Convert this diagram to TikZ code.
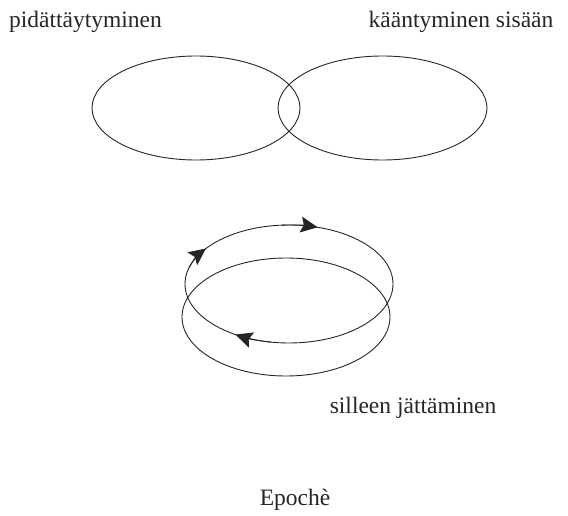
\documentclass[tikz,border=0pt]{standalone}
\usepackage{fontspec}
\setmainfont{Liberation Serif}
\usetikzlibrary{arrows.meta}
\begin{document}
\begin{tikzpicture}[x=1pt,y=-1pt,
  ring/.style={line width=0.9pt, black!85},
  lbl/.style={font=\fontsize{23.5}{28}\selectfont, text=black!85, inner sep=0pt},
  tipped/.style={line width=0.9pt, black!85, -{Stealth[length=17pt,width=16pt,inset=3pt]}}]
\useasboundingbox (0,0) rectangle (568,516);
% top ellipses
\draw[ring] (196,108) ellipse [x radius=104, y radius=52];
\draw[ring] (382.5,108) ellipse [x radius=104.5, y radius=52];
% lower ellipses
\draw[ring] (286,317) ellipse [x radius=104, y radius=59];
\draw[ring] (289,284) ellipse [x radius=104, y radius=59];
% arrows on the upper lower ellipse
\draw[tipped] (289,284) ++(266:104 and 59) arc[start angle=266, end angle=286, x radius=104, y radius=59];
\draw[tipped] (289,284) ++(196:104 and 59) arc[start angle=196, end angle=217, x radius=104, y radius=59];
\draw[tipped] (289,284) ++(100:104 and 59) arc[start angle=100, end angle=121, x radius=104, y radius=59];
% labels
\node[lbl, anchor=base] (p) at (85.5,28) {pidättäytyminen};
\node[lbl, anchor=base] (k) at (461,28) {kääntyminen sisään};
\node[lbl, anchor=base] (s) at (413,413) {silleen jättäminen};
\node[lbl, anchor=base] (e) at (295,505) {Epochè};
\end{tikzpicture}
\end{document}
